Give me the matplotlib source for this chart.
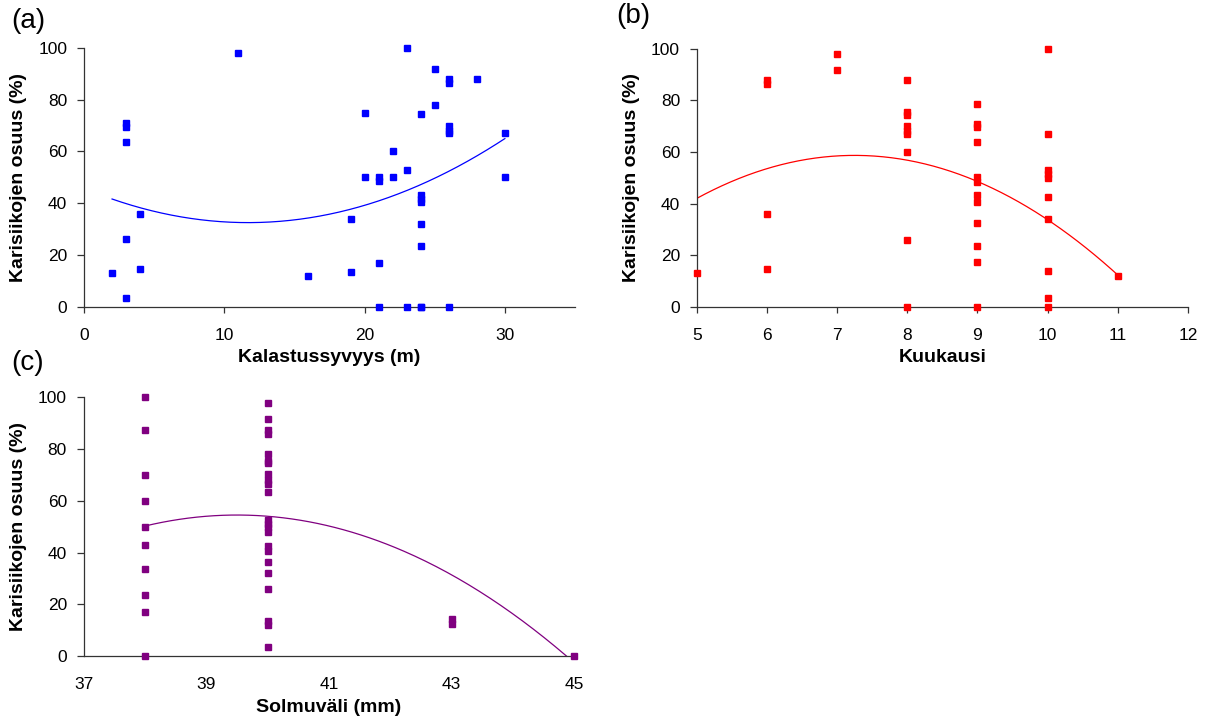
import numpy as np
import matplotlib
matplotlib.use("Agg")
import matplotlib.pyplot as plt

# three scatter panels with 2nd order trend lines
plt.rcParams['font.family'] = ['Liberation Sans', 'DejaVu Sans']

# (a) depth vs share
depth = [2, 3, 3, 3, 3, 3, 4, 4, 11, 16, 19, 19, 20, 20, 21, 21, 21, 21,
         22, 22, 23, 23, 23, 24, 24, 24, 24, 24, 24, 24, 24, 25, 25,
         26, 26, 26, 26, 26, 26, 28, 30, 30]
share_a = [13, 71, 69.5, 63.5, 26, 3.5, 36, 14.5, 98, 12, 34, 13.5, 75, 50,
           50, 48.5, 17, 0, 60, 50, 100, 53, 0, 74.5, 43, 41.5, 40.5, 32,
           23.5, 0, 0, 92, 78, 88, 86.5, 70, 68, 67, 0, 88, 67, 50]

# (b) month vs share
month = [5, 6, 6, 6, 6, 7, 7, 8, 8, 8, 8, 8, 8, 8, 8, 8,
         9, 9, 9, 9, 9, 9, 9, 9, 9, 9, 9, 9,
         10, 10, 10, 10, 10, 10, 10, 10, 10, 10, 11]
share_b = [13, 88, 86.5, 36, 14.5, 98, 92, 88, 75.5, 74.5, 70, 68, 67, 60, 26, 0,
           78.5, 70.8, 69.8, 63.8, 50.4, 48.5, 43.3, 40.7, 32.3, 23.7, 17.2, 0,
           100, 67, 53, 51.5, 50, 42.5, 34, 14, 3.5, 0, 12]

# (c) mesh size vs share
mesh = [38] * 10 + [40] * 23 + [43, 43, 45]
share_c = [100, 87.5, 70, 60, 50, 43, 33.5, 23.5, 17, 0,
           98, 91.5, 87.5, 86, 78, 75.5, 74.5, 70.5, 68, 66.5, 63.5, 52.5,
           51, 50, 48, 42.5, 40.5, 36.5, 32, 26, 13.5, 12, 3.5,
           14.5, 12.5, 0]

# trend lines: (curvature, vertex x, vertex y)
trend_a = (0.097, 11.7, 32.5)
trend_b = (-3.3, 7.25, 58.7)
trend_c = (-1.89, 39.5, 54.5)

ylabel = 'Karisiikojen osuus (%)'

fig = plt.figure(figsize=(12.07, 7.24), dpi=100)


def panel(rect, x, y, trend, color, xlim, xticks, xlabel, ticklen):
    ax = fig.add_axes(rect)
    ax.plot(x, y, 's', color=color, ms=5, mec=color, zorder=3, clip_on=False)
    a, h, k = trend
    xs = np.linspace(min(x), max(x), 200)
    ax.plot(xs, a * (xs - h) ** 2 + k, color=color, lw=0.9, zorder=2)
    ax.set_xlim(*xlim)
    ax.set_ylim(0, 100)
    ax.set_xticks(xticks)
    ax.set_yticks(range(0, 101, 20))
    for s in ['top', 'right']:
        ax.spines[s].set_visible(False)
    for s in ['left', 'bottom']:
        ax.spines[s].set_color('#333333')
        ax.spines[s].set_linewidth(0.9)
    ax.tick_params(axis='y', direction='out', length=5, width=0.9,
                   color='#333333', labelsize=12.5, pad=7)
    ax.tick_params(axis='x', direction='out', length=ticklen, width=0.9,
                   color='#333333', labelsize=12.5, pad=(15 - ticklen))
    ax.set_xlabel(xlabel, fontsize=14, fontweight='bold', labelpad=5)
    ax.set_ylabel(ylabel, fontsize=14, fontweight='bold', labelpad=8)
    return ax


panel([0.0696, 0.5764, 0.4068, 0.3573], depth, share_a, trend_a, '#0000FF',
      (0, 35), [0, 10, 20, 30], 'Kalastussyvyys (m)', 4.3)
panel([0.5772, 0.5764, 0.4070, 0.3560], month, share_b, trend_b, '#FF0000',
      (5, 12), range(5, 13), 'Kuukausi', 4.3)
panel([0.0693, 0.0939, 0.4066, 0.3573], mesh, share_c, trend_c, '#800080',
      (37, 45), [37, 39, 41, 43, 45], 'Solmuväli (mm)', 0)

fig.text(11 / 1207, 1 - 8 / 724, '(a)', fontsize=20, va='top', ha='left')
fig.text(616 / 1207, 1 - 3 / 724, '(b)', fontsize=20, va='top', ha='left')
fig.text(11 / 1207, 1 - 350 / 724, '(c)', fontsize=20, va='top', ha='left')

fig.savefig('out.png', dpi=100)
